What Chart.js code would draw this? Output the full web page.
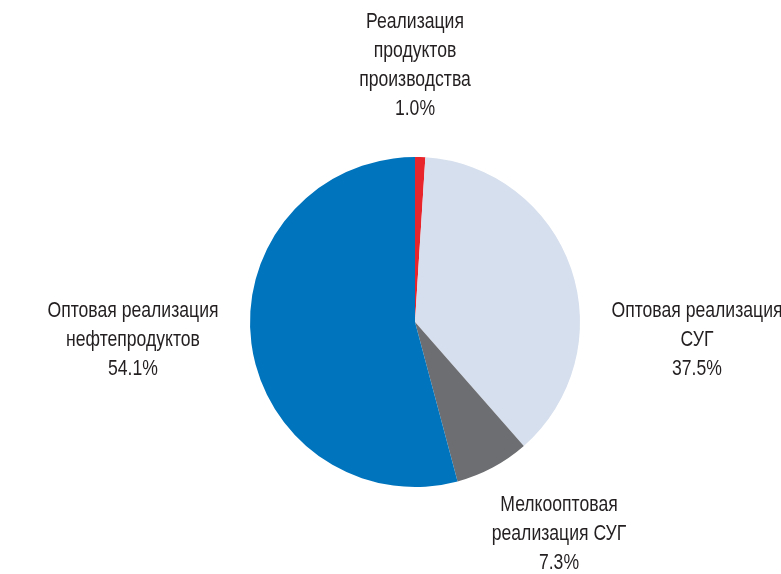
<!DOCTYPE html>
<html lang="ru">
<head>
  <meta charset="UTF-8" />
  <title>Структура реализации</title>
  <script src="https://cdn.jsdelivr.net/npm/chart.js"></script>
  <style>
    html, body { margin: 0; padding: 0; background: #fff; }
    #wrap { width: 781px; height: 574px; }
  </style>
</head>
<body>
  <div id="wrap"><canvas id="myChart" width="781" height="574"></canvas></div>

  <script>
    // данные
    const categories = [
      ['Реализация', 'продуктов', 'производства'],
      ['Оптовая реализация', 'СУГ'],
      ['Мелкооптовая', 'реализация СУГ'],
      ['Оптовая реализация', 'нефтепродуктов']
    ];
    const shares = [1.0, 37.5, 7.3, 54.1];
    const colors = ['#e8252b', '#d6dfed', '#6d6e71', '#0074bd'];

    // смещение центра подписи от центра круга (px)
    const labelOffsets = [[0, -257], [282, 18], [144, 212], [-282, 18]];

    // узкий шрифт не установлен — сжимаем текст по горизонтали
    const narrow = 0.8;

    const outsideLabels = {
      id: 'outsideLabels',
      afterDraw(chart) {
        const ctx = chart.ctx;
        const meta = chart.getDatasetMeta(0);
        const lineH = 29;
        ctx.save();
        ctx.font = '22px "Liberation Sans", Arial, sans-serif';
        ctx.fillStyle = '#231f20';
        ctx.textAlign = 'center';
        ctx.textBaseline = 'middle';
        ctx.scale(narrow, 1);
        meta.data.forEach((arc, i) => {
          const lines = categories[i].concat([shares[i].toFixed(1) + '%']);
          const cx = arc.x + labelOffsets[i][0];
          const cy = arc.y + labelOffsets[i][1];
          const top = cy - (lines.length - 1) * lineH / 2;
          lines.forEach((t, k) => ctx.fillText(t, cx / narrow, top + k * lineH));
        });
        ctx.restore();
      }
    };

    new Chart(document.getElementById('myChart'), {
      type: 'pie',
      data: {
        labels: categories.map(c => c.join(' ')),
        datasets: [{
          data: shares,
          backgroundColor: colors,
          borderWidth: 0
        }]
      },
      options: {
        responsive: false,
        animation: false,
        layout: { padding: { left: 250, right: 201, top: 157, bottom: 87 } },
        plugins: {
          legend: { display: false },
          tooltip: { enabled: false }
        }
      },
      plugins: [outsideLabels]
    });
  </script>
</body>
</html>
